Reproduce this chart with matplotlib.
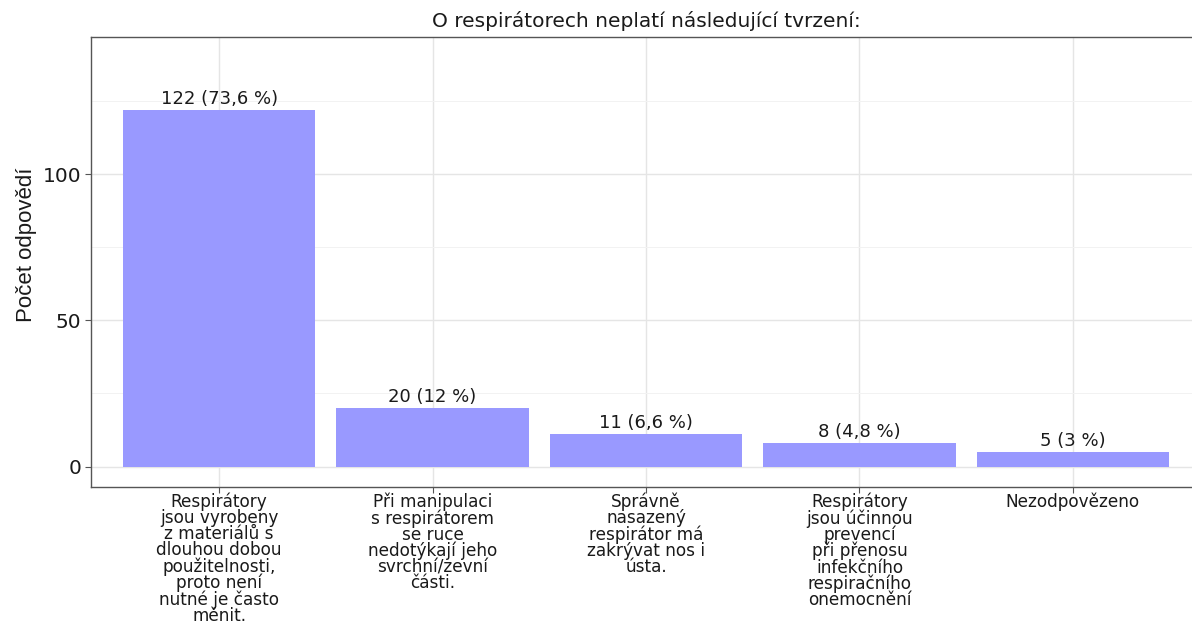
import matplotlib.pyplot as plt
from matplotlib.ticker import MultipleLocator

plt.rcParams['font.family'] = ['DejaVu Sans']

# data
categories = [
    "Respirátory\njsou vyrobeny\nz materiálů s\ndlouhou dobou\npoužitelnosti,\nproto není\nnutné je často\nměnit.",
    "Při manipulaci\ns respirátorem\nse ruce\nnedotýkají jeho\nsvrchní/zevní\nčásti.",
    "Správně\nnasazený\nrespirátor má\nzakrývat nos i\nústa.",
    "Respirátory\njsou účinnou\nprevencí\npři přenosu\ninfekčního\nrespiračního\nonemocnění",
    "Nezodpovězeno",
]
counts = [122, 20, 11, 8, 5]
labels = ["122 (73,6 %)", "20 (12 %)", "11 (6,6 %)", "8 (4,8 %)", "5 (3 %)"]

fig = plt.figure(figsize=(11.92, 6.23), dpi=100)
ax = fig.add_axes([91 / 1192, 1 - 487 / 623, 1110 / 1192, 450 / 623])

x = list(range(1, len(counts) + 1))
ax.bar(x, counts, width=0.9, color='#9999FF', zorder=2)
for xi, c, lab in zip(x, counts, labels):
    ax.annotate(lab, (xi, c), xytext=(0, 1.5), textcoords='offset points',
                ha='center', va='bottom', fontsize=13, color='#1a1a1a')

ax.set_xlim(0.4, 5.6)
ax.set_ylim(-7, 147)
ax.set_xticks(x)
ax.set_xticklabels(categories, fontsize=12.2, linespacing=0.86, color='#1a1a1a')
ax.set_yticks([0, 50, 100])
ax.tick_params(axis='y', labelsize=14.5, labelcolor='#1a1a1a', pad=3)
ax.tick_params(axis='x', pad=0)
ax.yaxis.set_minor_locator(MultipleLocator(25))
ax.tick_params(which='major', length=4, color='#555555', width=0.8)
ax.tick_params(which='minor', length=0)

ax.grid(True, which='major', color='#E5E5E5', linewidth=1.0, zorder=0)
ax.grid(True, which='minor', axis='y', color='#F2F2F2', linewidth=0.7, zorder=0)
ax.set_axisbelow(True)
for s in ax.spines.values():
    s.set_color('#555555')
    s.set_linewidth(1.0)

ax.set_ylabel("Počet odpovědí", fontsize=16, color='#1a1a1a',
              family=['Liberation Sans', 'DejaVu Sans'])
ax.yaxis.set_label_coords(-0.0486, 0.538)
ax.set_title("O respirátorech neplatí následující tvrzení:", fontsize=14.5,
             color='#1a1a1a', pad=7)

fig.savefig("out.png", dpi=100)
